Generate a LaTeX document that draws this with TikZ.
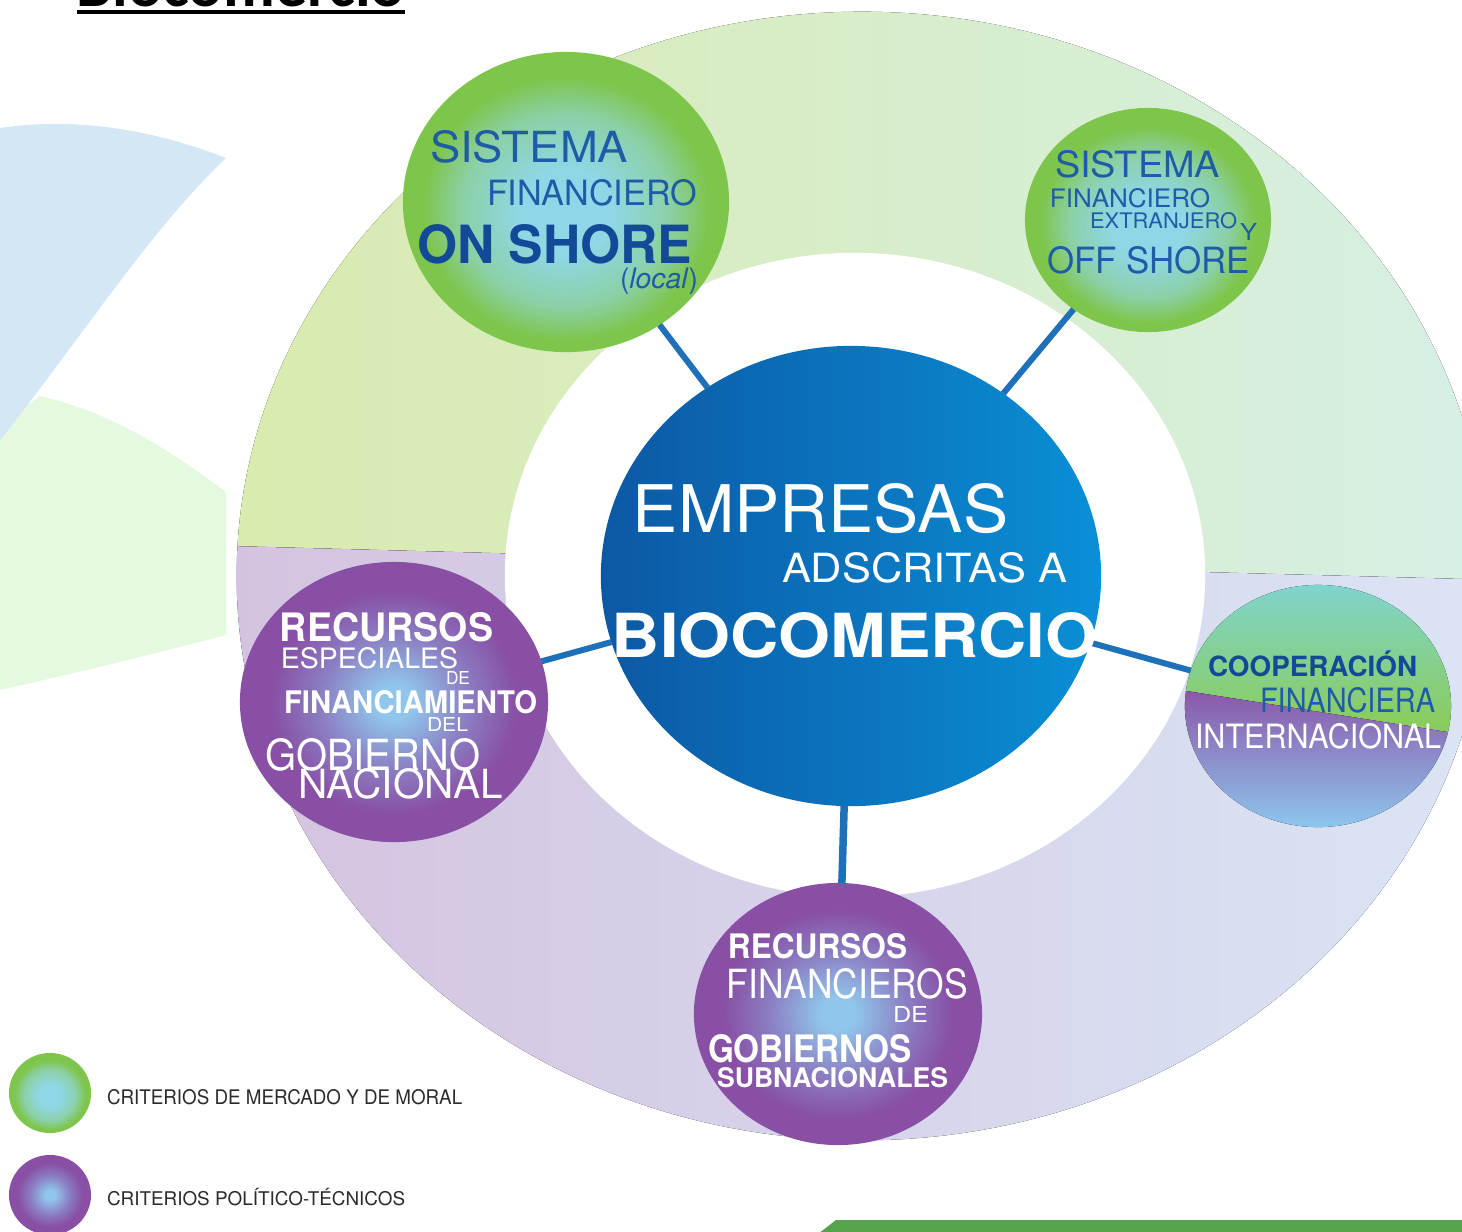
\documentclass[tikz,border=0pt]{standalone}
\usepackage{fontspec}
\usepackage{graphicx}
\setmainfont{TeX Gyre Heros}
\newfontfamily\titlefont{Carlito}
\usetikzlibrary{shapes.geometric}

\definecolor{tblue}{HTML}{1F5CA8}
\definecolor{tnavy}{HTML}{124A97}
\definecolor{connBlue}{HTML}{1E70B9}
\definecolor{cLeft}{HTML}{0C58A4}
\definecolor{cRight}{HTML}{0A8FD6}
\definecolor{gIn}{HTML}{8FD7E6}
\definecolor{gMid}{HTML}{8BD0A6}
\definecolor{gOut}{HTML}{7EC54B}
\definecolor{pIn}{HTML}{90C6EC}
\definecolor{pMid}{HTML}{8B7EC2}
\definecolor{pOut}{HTML}{884FA5}
\definecolor{rGL}{HTML}{D9EBAE}
\definecolor{rGM}{HTML}{D8EDC6}
\definecolor{rGR}{HTML}{D6EFE5}
\definecolor{rPL}{HTML}{D4C3E0}
\definecolor{rPM}{HTML}{D7D2EA}
\definecolor{rPR}{HTML}{DAE5F5}
\definecolor{leafBlue}{HTML}{D3E7F5}
\definecolor{leafGreen}{HTML}{E5F9E1}
\definecolor{barGreen}{HTML}{55A44B}
\definecolor{legText}{HTML}{2B2B2B}
\definecolor{coopT}{HTML}{7FD4D0}
\definecolor{coopG}{HTML}{8BCC55}
\definecolor{coopP}{HTML}{8B57A9}
\definecolor{coopM}{HTML}{8C86C6}
\definecolor{coopB}{HTML}{8DC8EE}

\pgfdeclareradialshading{greenball}{\pgfpoint{0bp}{-2bp}}{color(0bp)=(gIn); color(7bp)=(gIn); color(16bp)=(gMid); color(22bp)=(gOut); color(50bp)=(gOut)}
\pgfdeclareradialshading{purpleball}{\pgfpoint{0bp}{0bp}}{color(0bp)=(pIn); color(3bp)=(pIn); color(12bp)=(pMid); color(20bp)=(pOut); color(50bp)=(pOut)}

\newcommand\fitb[3]{\resizebox{#1cm}{#2cm}{#3}}
\newcommand\fitw[2]{\resizebox{#1cm}{!}{#2}}

\tikzset{
  ball/.style={ellipse, inner sep=0pt, outer sep=0pt},
  conn/.style={line width=0.06cm, draw=connBlue},
  txt/.style={anchor=base west, inner sep=0pt, outer sep=0pt},
  uline/.style={line width=0.04cm, draw=black},
}

\begin{document}
\begin{tikzpicture}[x=0.01cm, y=-0.01cm]
\useasboundingbox (0,0) rectangle (1462,1232);
\clip (0,0) rectangle (1462,1232);
\fill[white] (0,0) rectangle (1462,1232);

% left background shapes
\fill[leafGreen] (0,425) -- (40,396) .. controls (110,412) and (170,450) .. (226,492)
  -- (226,635) .. controls (150,655) and (80,672) .. (0,690) -- cycle;
\fill[leafBlue] (0,128) .. controls (80,116) and (160,132) .. (226,158)
  .. controls (150,230) and (80,340) .. (0,440) -- cycle;

% ring
\begin{scope}
  \clip (862,576) ellipse [x radius=6.25cm, y radius=5.64cm];
  \fill[left color=rGL, middle color=rGM, right color=rGR] (230,-20) -- (1500,-20) -- (1500,580) -- (230,546) -- cycle;
  \fill[left color=rPL, middle color=rPM, right color=rPR] (230,546) -- (1500,580) -- (1500,1160) -- (230,1160) -- cycle;
\end{scope}
\fill[white] (855,575) ellipse [x radius=3.5cm, y radius=3.22cm];

% title (cropped)
\node[txt] (title) at (77,6) {\fitw{3.28}{\titlefont\bfseries Biocomercio}};
\draw[uline] ([yshift=-0.06cm]title.base west) -- ([yshift=-0.06cm]title.base east);

% right composite circle fill
\begin{scope}
  \clip (1318,706) ellipse [x radius=1.33cm, y radius=1.21cm];
  \fill[top color=coopT, bottom color=coopG] (1180,580) -- (1460,580) -- (1460,734) -- (1180,690) -- cycle;
  \fill[top color=coopP, middle color=coopM, bottom color=coopB] (1180,690) -- (1460,734) -- (1460,830) -- (1180,830) -- cycle;
\end{scope}

% circles
\node[ball, shading=axis, left color=cLeft, right color=cRight, minimum width=5cm, minimum height=4.6cm] (C) at (851,576) {};
\node[ball, shading=greenball, minimum width=3.26cm, minimum height=3.0cm] (A) at (566,202) {};
\node[ball, shading=greenball, minimum width=2.46cm, minimum height=2.24cm] (B) at (1148,220) {};
\node[ball, shading=purpleball, minimum width=3.08cm, minimum height=2.8cm] (L) at (394,702) {};
\node[ball, minimum width=2.66cm, minimum height=2.42cm] (R) at (1318,706) {};
\node[ball, shading=purpleball, minimum width=2.88cm, minimum height=2.62cm] (D) at (838,1014) {};

% connectors
\draw[conn] (A) -- (C);
\draw[conn] (B) -- (C);
\draw[conn] (L) -- (C);
\draw[conn] (R) -- (C);
\draw[conn, line width=0.075cm] (D) -- (C);

% central text
\node[txt, text=white] (c1) at (633,532) {\fitb{3.75}{0.49}{EMPRESAS}};
\node[txt, text=white] (c2) at (782,582) {\fitb{2.85}{0.30}{ADSCRITAS A}};
\node[txt, text=white] (c3) at (612,657) {\fitb{4.85}{0.45}{\bfseries BIOCOMERCIO}};

% onshore text
\node[txt, text=tblue] (a1) at (430,162) {\fitb{1.98}{0.32}{SISTEMA}};
\node[txt, text=tblue] (a2) at (487,205) {\fitb{2.10}{0.26}{FINANCIERO}};
\node[txt, text=tnavy] (a3) at (417,263) {\fitb{2.75}{0.39}{\bfseries ON SHORE}};
\node[txt, text=tblue] (a4) at (620,288) {\fitw{0.78}{(\textit{local})}};

% offshore text
\node[txt, text=tblue] (b1) at (1055,177) {\fitb{1.65}{0.27}{SISTEMA}};
\node[txt, text=tblue] (b2) at (1050,207) {\fitb{1.60}{0.19}{FINANCIERO}};
\node[txt, text=tblue] (b3) at (1090,228) {\fitb{1.47}{0.16}{EXTRANJERO}};
\node[txt, text=tblue] (b4) at (1240,240) {\fitb{0.17}{0.17}{Y}};
\node[txt, text=tblue] (b5) at (1047,273) {\fitb{2.03}{0.27}{OFF SHORE}};

% left purple text
\node[txt, text=white] (l1) at (280,641) {\fitb{2.13}{0.29}{\bfseries RECURSOS}};
\node[txt, text=white] (l2) at (281,668) {\fitb{1.77}{0.21}{ESPECIALES}};
\node[txt, text=white] (l3) at (446,684) {\fitb{0.24}{0.13}{DE}};
\node[txt, text=white] (l4) at (284,713) {\fitb{2.53}{0.23}{\bfseries FINANCIAMIENTO}};
\node[txt, text=white] (l5) at (427,731) {\fitb{0.41}{0.14}{DEL}};
\node[txt, text=white] (l6) at (265,770) {\fitb{2.15}{0.32}{GOBIERNO}};
\node[txt, text=white] (l7) at (298,798) {\fitb{2.05}{0.30}{NACIONAL}};

% bottom purple text
\node[txt, text=white] (d1) at (728,958) {\fitb{1.79}{0.25}{\bfseries RECURSOS}};
\node[txt, text=white] (d2) at (727,998) {\fitb{2.41}{0.30}{FINANCIEROS}};
\node[txt, text=white] (d3) at (893,1022) {\fitb{0.35}{0.16}{DE}};
\node[txt, text=white] (d4) at (708,1062) {\fitb{2.04}{0.28}{\bfseries GOBIERNOS}};
\node[txt, text=white] (d5) at (717,1087) {\fitb{2.31}{0.20}{\bfseries SUBNACIONALES}};

% right text
\node[txt, text=tnavy] (r1) at (1208,676) {\fitw{2.09}{\bfseries COOPERACIÓN}};
\node[txt, text=tblue] (r2) at (1260,712) {\fitb{1.75}{0.25}{FINANCIERA}};
\node[txt, text=white] (r3) at (1195,748) {\fitb{2.46}{0.25}{INTERNACIONAL}};

% legend
\node[ball, shading=greenball, minimum width=0.82cm, minimum height=0.8cm] (lg1) at (50,1093) {};
\node[ball, shading=purpleball, minimum width=0.82cm, minimum height=0.8cm] (lg2) at (50,1195) {};
\node[txt, text=legText] (lt1) at (107,1104) {\fitb{3.55}{0.15}{CRITERIOS DE MERCADO Y DE MORAL}};
\node[txt, text=legText] (lt2) at (107,1205) {\fitw{2.98}{CRITERIOS POLÍTICO-TÉCNICOS}};

% bottom-right green bar
\fill[barGreen] (818,1234) -- (836,1220) -- (1464,1220) -- (1464,1234) -- cycle;
\end{tikzpicture}
\end{document}
